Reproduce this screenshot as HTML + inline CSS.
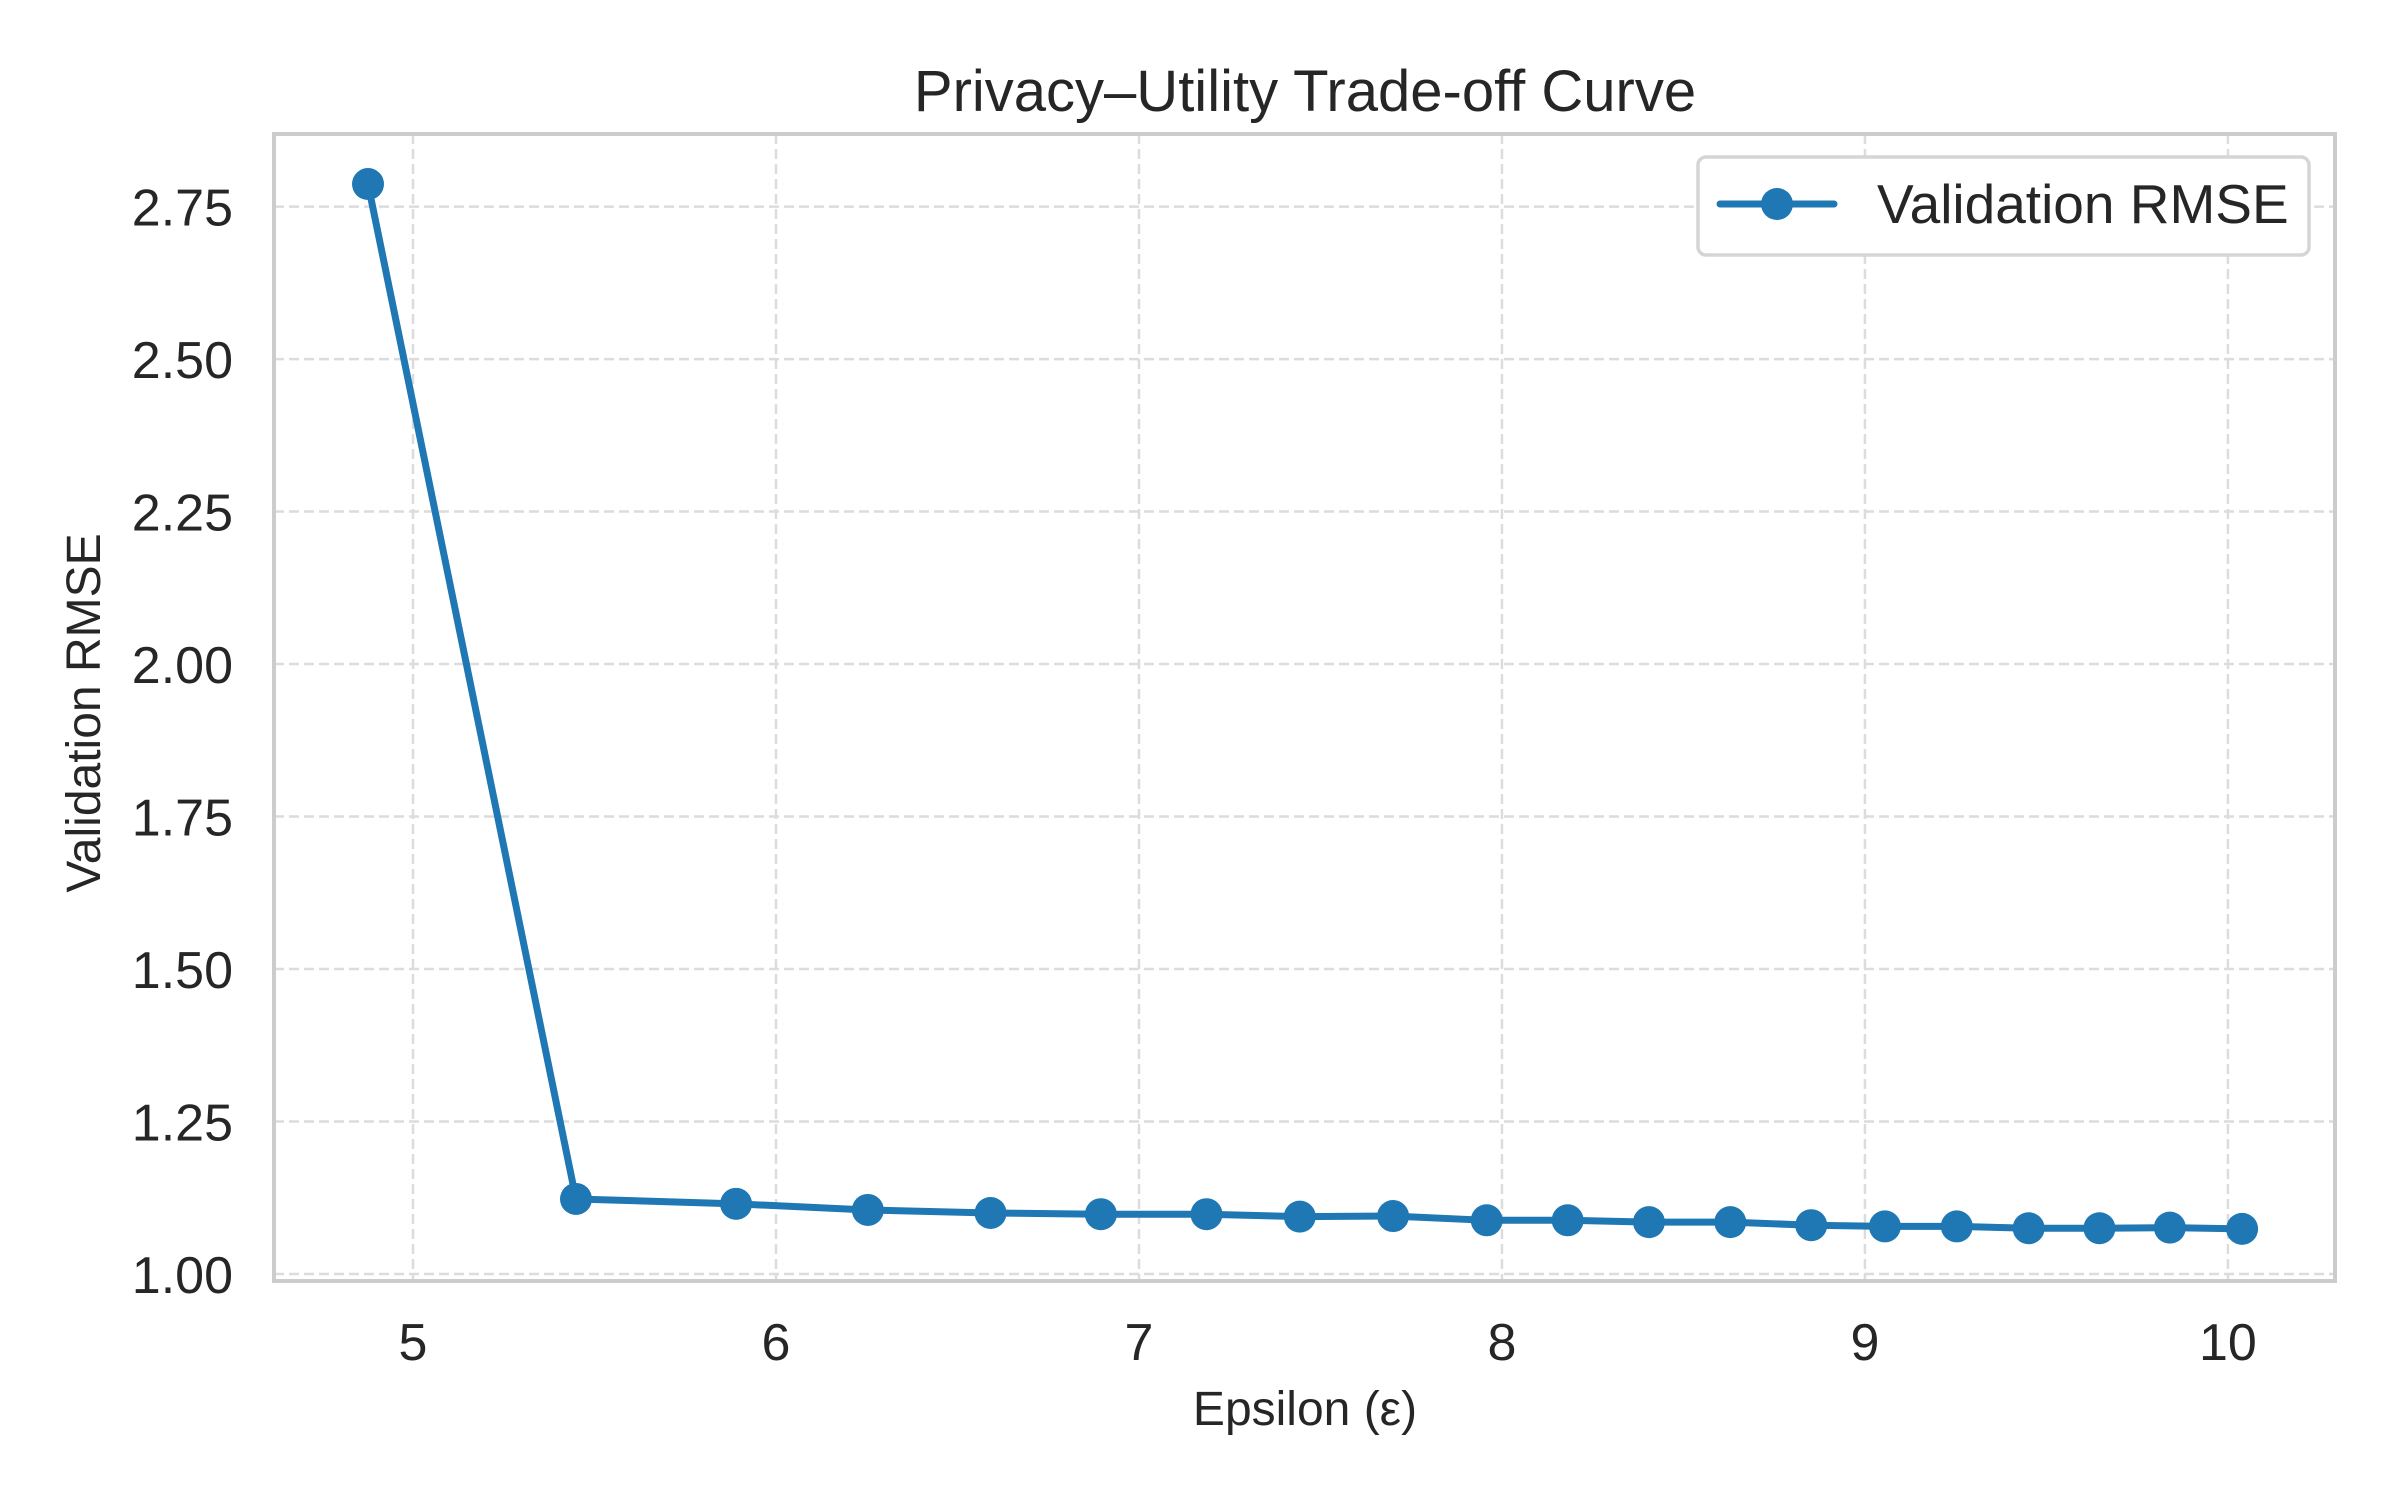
<!DOCTYPE html>
<html><head><meta charset="utf-8"><style>
html,body{margin:0;padding:0;background:#fff;}
svg{display:block;font-family:"Liberation Sans",Arial,sans-serif;}
</style></head><body>
<svg id="chart" width="2400" height="1500" viewBox="0 0 2400 1500" xmlns="http://www.w3.org/2000/svg">
<rect width="2400" height="1500" fill="#fff"/>
<g id="grid"></g>
<g id="axes"></g>
<g id="series"></g>
<text x="1305" y="111" text-anchor="middle" font-size="58" fill="#262626">Privacy–Utility Trade-off Curve</text>
<text x="1305" y="1425" text-anchor="middle" font-size="48" fill="#262626">Epsilon (ε)</text>
<text transform="translate(100,713) rotate(-90)" text-anchor="middle" font-size="48" fill="#262626">Validation RMSE</text>
<g>
<rect x="1698" y="157" width="611" height="98" rx="8" fill="#fff" stroke="#d5d5d5" stroke-width="3.5"/>
<line x1="1720" y1="204" x2="1834" y2="204" stroke="#1f77b4" stroke-width="7" stroke-linecap="round"/>
<circle cx="1777" cy="204" r="16" fill="#1f77b4"/>
<text x="1877" y="223" font-size="55" fill="#262626">Validation RMSE</text>
</g>
</svg>
<script>
const epsilon = [4.876, 5.449, 5.890, 6.253, 6.591, 6.895, 7.186, 7.443, 7.700, 7.958, 8.181, 8.405, 8.629, 8.852, 9.055, 9.253, 9.451, 9.646, 9.840, 10.039];
const rmse = [2.787, 1.123, 1.115, 1.105, 1.100, 1.098, 1.098, 1.094, 1.095, 1.088, 1.088, 1.085, 1.085, 1.080, 1.078, 1.078, 1.075, 1.075, 1.076, 1.074];
const xTicks = [5, 6, 7, 8, 9, 10];
const xTickLabels = ["5", "6", "7", "8", "9", "10"];
const yTicks = [1.00, 1.25, 1.50, 1.75, 2.00, 2.25, 2.50, 2.75];
const yTickLabels = ["1.00", "1.25", "1.50", "1.75", "2.00", "2.25", "2.50", "2.75"];

const L = 274, R = 2335, T = 134, B = 1281;
const xMin = 4.617, xMax = 10.295, yMin = 0.9885, yMax = 2.869;
function sx(v){ return L + (v - xMin) / (xMax - xMin) * (R - L); }
function sy(v){ return B - (v - yMin) / (yMax - yMin) * (B - T); }
const NS = "http://www.w3.org/2000/svg";
function mk(tag, attrs, parent){
  const e = document.createElementNS(NS, tag);
  for (const k in attrs) e.setAttribute(k, attrs[k]);
  parent.appendChild(e);
  return e;
}
const grid = document.getElementById('grid');
const axes = document.getElementById('axes');
const series = document.getElementById('series');

xTicks.forEach((t, i) => {
  const g = mk('line', {x1: sx(t), x2: sx(t), y1: T, y2: B, stroke: '#dcdcdc', 'stroke-width': 2.5, 'stroke-dasharray': '10,5'}, grid);
  
  
  const lb = mk('text', {x: sx(t), y: 1360, 'text-anchor': 'middle', 'font-size': 52, fill: '#262626'}, axes);
  lb.textContent = xTickLabels[i];
  
  
});
yTicks.forEach((t, i) => {
  const g = mk('line', {x1: L, x2: R, y1: sy(t), y2: sy(t), stroke: '#dcdcdc', 'stroke-width': 2.5, 'stroke-dasharray': '10,5'}, grid);
  
  
  const lb = mk('text', {x: 233, y: sy(t) + 19, 'text-anchor': 'end', 'font-size': 52, fill: '#262626'}, axes);
  lb.textContent = yTickLabels[i];
  
  
});
const frame = mk('rect', {x: L, y: T, width: R - L, height: B - T, fill: 'none', stroke: '#cccccc', 'stroke-width': 4}, axes);



const pts = epsilon.map((e, i) => sx(e) + ',' + sy(rmse[i])).join(' ');
const line = mk('polyline', {points: pts, fill: 'none', stroke: '#1f77b4', 'stroke-width': 7, 'stroke-linejoin': 'round', 'stroke-linecap': 'round'}, series);


epsilon.forEach((e, i) => {
  const c = mk('circle', {cx: sx(e), cy: sy(rmse[i]), r: 16, fill: '#1f77b4'}, series);
  
  
});
</script>
</body></html>
